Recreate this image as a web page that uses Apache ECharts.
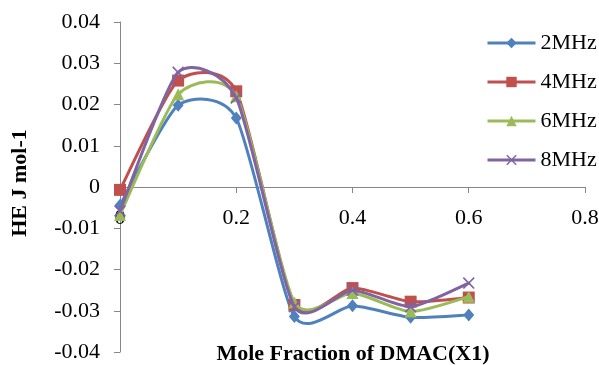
<!DOCTYPE html>
<html>
<head>
<meta charset="utf-8">
<script src="https://cdn.jsdelivr.net/npm/echarts@6/dist/echarts.min.js"></script>
<style>
  html, body { margin: 0; padding: 0; background: #fff; }
  #chart { width: 599px; height: 365px; }
</style>
</head>
<body>
<div id="chart"></div>
<script>
// Mole fraction of DMAC (x1)
const moleFraction = [0, 0.1, 0.2, 0.3, 0.4, 0.5, 0.6];

// Excess enthalpy HE (J mol-1) at each ultrasonic frequency
const he2MHz = [-0.0044, 0.0198, 0.0167, -0.0314, -0.0288, -0.0316, -0.0310];
const he4MHz = [-0.0007, 0.0258, 0.0232, -0.0286, -0.0245, -0.0278, -0.0268];
const he6MHz = [-0.0068, 0.0225, 0.0220, -0.0280, -0.0257, -0.0302, -0.0266];
const he8MHz = [-0.0058, 0.0278, 0.0216, -0.0290, -0.0250, -0.0290, -0.0233];

const seriesNames = ['2MHz', '4MHz', '6MHz', '8MHz'];
const seriesValues = [he2MHz, he4MHz, he6MHz, he8MHz];
const colors = ['#4F81BD', '#C0504D', '#9BBB59', '#8064A2'];
const crossPath = 'path://M0,1L1,0L5,4L9,0L10,1L6,5L10,9L9,10L5,6L1,10L0,9L4,5Z';
const symbols = ['diamond', 'rect', 'triangle', crossPath];
const symbolSizes = [[11, 13], 12, 12, 12];

const serif = '"Liberation Serif", "Times New Roman", serif';
const axisGray = '#868686';
const lineWidth = 3;
const tension = 0.11;

// Smooth curve through the data points (cardinal spline converted to cubic Beziers),
// computed in pixel space from the axis scales.
function splineRenderer(values, color) {
  return function (params, api) {
    const pts = moleFraction.map((x, j) => api.coord([x, values[j]]));
    let d = 'M' + pts[0][0] + ',' + pts[0][1];
    for (let j = 0; j < pts.length - 1; j++) {
      const p0 = pts[j - 1] || pts[j];
      const p1 = pts[j];
      const p2 = pts[j + 1];
      const p3 = pts[j + 2] || pts[j + 1];
      const c1x = p1[0] + (p2[0] - p0[0]) * tension;
      const c1y = p1[1] + (p2[1] - p0[1]) * tension;
      const c2x = p2[0] - (p3[0] - p1[0]) * tension;
      const c2y = p2[1] - (p3[1] - p1[1]) * tension;
      d += 'C' + c1x + ',' + c1y + ',' + c2x + ',' + c2y + ',' + p2[0] + ',' + p2[1];
    }
    return {
      type: 'path',
      shape: { pathData: d },
      style: { fill: 'none', stroke: color, lineWidth: lineWidth, lineJoin: 'round', lineCap: 'round' }
    };
  };
}

const chart = echarts.init(document.getElementById('chart'), null, { renderer: 'canvas' });

const series = [];
seriesNames.forEach((name, i) => {
  series.push({
    name: name + ' curve',
    type: 'custom',
    coordinateSystem: 'cartesian2d',
    data: [[moleFraction[0], seriesValues[i][0]]],
    renderItem: splineRenderer(seriesValues[i], colors[i]),
    silent: true,
    z: 2 + 2 * i
  });
  series.push({
    name: name,
    type: 'line',
    data: moleFraction.map((x, j) => [x, seriesValues[i][j]]),
    symbol: symbols[i],
    symbolSize: symbolSizes[i],
    showAllSymbol: true,
    lineStyle: { width: lineWidth, color: colors[i], opacity: 0 },
    itemStyle: { color: colors[i] },
    z: 3 + 2 * i
  });
});

chart.setOption({
  animation: false,
  color: colors,
  grid: { left: 120, top: 22, width: 465, height: 330, containLabel: false, outerBoundsMode: 'none' },
  legend: {
    orient: 'vertical',
    left: 486,
    top: 32,
    padding: 0,
    itemWidth: 48,
    itemHeight: 13,
    itemGap: 17,
    textStyle: { fontFamily: serif, fontSize: 22, color: '#000' },
    data: seriesNames.map((name, i) => ({
      name: name,
      lineStyle: { opacity: 1, width: lineWidth, color: colors[i] }
    }))
  },
  xAxis: {
    type: 'value',
    min: 0,
    max: 0.8,
    interval: 0.2,
    axisLine: { onZero: false, lineStyle: { color: axisGray, width: 1 } },
    axisTick: { show: true, inside: false, length: 6, lineStyle: { color: axisGray } },
    axisLabel: { margin: 20, fontFamily: serif, fontSize: 22, color: '#000', showMinLabel: true, showMaxLabel: true },
    splitLine: { show: false }
  },
  yAxis: {
    type: 'value',
    min: -0.04,
    max: 0.04,
    interval: 0.01,
    axisLine: { show: true, onZero: false, lineStyle: { color: axisGray, width: 1 } },
    axisTick: { show: true, inside: false, length: 6, lineStyle: { color: axisGray } },
    axisLabel: {
      margin: 20,
      fontFamily: serif,
      fontSize: 22,
      color: '#000',
      formatter: v => String(Math.round(v * 100) / 100)
    },
    splitLine: { show: false }
  },
  graphic: [
    {
      type: 'text',
      x: 353,
      y: 354,
      style: {
        text: 'Mole Fraction of DMAC(X1)',
        align: 'center',
        verticalAlign: 'middle',
        font: 'bold 22px ' + serif,
        fill: '#000'
      }
    },
    {
      type: 'text',
      x: 20,
      y: 183,
      rotation: Math.PI / 2,
      style: {
        text: 'HE J mol-1',
        align: 'center',
        verticalAlign: 'middle',
        font: 'bold 22px ' + serif,
        fill: '#000'
      }
    }
  ],
  series: series
});

// The x axis crosses the y axis at HE = 0, with its ticks and labels.
const zeroY = chart.convertToPixel({ yAxisIndex: 0 }, 0);
const bottomY = chart.convertToPixel({ yAxisIndex: 0 }, -0.04);
chart.setOption({ xAxis: { offset: zeroY - bottomY } });
</script>
</body>
</html>
